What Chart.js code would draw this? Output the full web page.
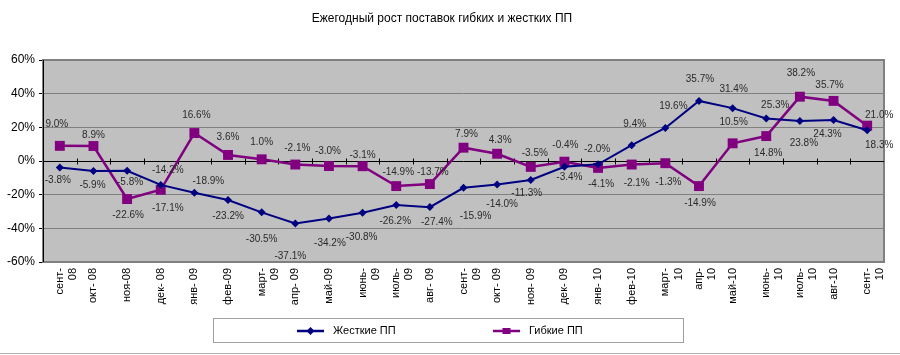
<!DOCTYPE html>
<html><head><meta charset="utf-8">
<script src="https://cdn.jsdelivr.net/npm/chart.js@4"></script>
<style>html,body{margin:0;padding:0;background:#fff}#wrap{width:900px;height:355px;position:relative}</style>
</head><body><div id="wrap"><canvas id="c" width="900" height="355"></canvas></div>
<script>
const categories = [['сент-','08'],'окт- 08','ноя-08','дек- 08','янв- 09','фев-09',['март-','09'],'апр- 09','май-09',['июнь-','09'],['июль-','09'],'авг- 09',['сент-','09'],'окт- 09','ноя- 09','дек- 09','янв- 10','фев-10',['март-','10'],['апр-','10'],'май-10',['июнь-','10'],['июль-','10'],'авг-10',['сент-','10']];
const rigidName = 'Жесткие ПП';
const flexibleName = 'Гибкие ПП';
const rigidValues = [-3.8,-5.9,-5.8,-14.2,-18.9,-23.2,-30.5,-37.1,-34.2,-30.8,-26.2,-27.4,-15.9,-14.0,-11.3,-3.4,-2.0,9.4,19.6,35.7,31.4,25.3,23.8,24.3,18.3];
const flexibleValues = [9.0,8.9,-22.6,-17.1,16.6,3.6,1.0,-2.1,-3.0,-3.1,-14.9,-13.7,7.9,4.3,-3.5,-0.4,-4.1,-2.1,-1.3,-14.9,10.5,14.8,38.2,35.7,21.0];
const yMin = -60, yMax = 60, yStep = 20;
const titleText = 'Ежегодный рост поставок гибких и жестких ПП';

// label placement offsets (dx, dy) relative to each point
const rigidLabelOffsets = [[-2,13],[-1,14],[3,11],[7,-15],[14,-12],[0,16],[0,27],[-5,33],[1,25],[-1,24],[-1,16],[7,15],[12,28],[5,20],[-4,13],[5,11],[-1,-15],[3,-21],[8,-22],[1,-22],[1,-19],[9,-13],[4,22],[-6,14],[12,15]];
const flexibleLabelOffsets = [[-3,-22],[0,-11],[1,16],[7,18],[2,-18],[0,-18],[0,-17],[2,-16],[-1,-15],[0,-11],[2,-14],[3,-12],[3,-13],[3,-14],[4,-14],[1,-16],[3,16],[5,19],[3,19],[1,17],[1,-21],[2,17],[1,-23],[-4,-16],[12,-10]];

const RIGID = '#000080', FLEX = '#800080';
const FONT = "'Liberation Sans', Arial, sans-serif";

const framePlugin = {
  id: 'frame',
  beforeDraw(chart) {
    const {ctx, chartArea: a} = chart;
    ctx.save();
    ctx.fillStyle = '#c0c0c0';
    ctx.fillRect(a.left, a.top, a.right - a.left, a.bottom - a.top);
    ctx.restore();
  },
  beforeDatasetsDraw(chart) {
    const {ctx, chartArea: a} = chart;
    const ys = chart.scales.y, xs = chart.scales.x;
    const y0 = Math.round(ys.getPixelForValue(0)) + 0.5;
    ctx.save();
    ctx.strokeStyle = '#808080';
    ctx.lineWidth = 2;
    ctx.strokeRect(a.left, a.top, a.right - a.left, a.bottom - a.top);
    ctx.strokeStyle = '#000';
    ctx.lineWidth = 1;
    ctx.beginPath();
    ctx.moveTo(a.left, y0); ctx.lineTo(a.right, y0);
    const n = categories.length;
    const step = (a.right - a.left) / n;
    for (let i = 1; i < n; i++) {
      const x = Math.round(a.left + i * step) + 0.5;
      ctx.moveTo(x, y0 - 3); ctx.lineTo(x, y0 + 3);
    }
    ctx.moveTo(a.left + 0.5, a.top); ctx.lineTo(a.left + 0.5, a.bottom);
    ctx.stroke();
    ctx.restore();
  },
  afterDatasetsDraw(chart) {
    const {ctx} = chart;
    ctx.save();
    ctx.font = '10px ' + FONT;
    ctx.fillStyle = '#2a2a2a';
    ctx.textAlign = 'center';
    ctx.textBaseline = 'middle';
    const offs = [rigidLabelOffsets, flexibleLabelOffsets];
    chart.data.datasets.forEach((ds, di) => {
      const meta = chart.getDatasetMeta(di);
      meta.data.forEach((pt, i) => {
        const o = offs[di][i];
        ctx.fillText(ds.data[i].toFixed(1) + '%', pt.x + o[0], pt.y + o[1]);
      });
    });
    ctx.restore();
  },
  afterDraw(chart) {
    const {ctx} = chart;
    ctx.save();
    // legend box
    ctx.fillStyle = '#fff';
    ctx.strokeStyle = '#a0a0a0';
    ctx.lineWidth = 1;
    ctx.fillRect(213.5, 318.5, 470, 24);
    ctx.strokeRect(213.5, 318.5, 470, 24);
    const items = [
      {x: 297, color: RIGID, label: chart.data.datasets[0].label, style: 'diamond'},
      {x: 493, color: FLEX, label: chart.data.datasets[1].label, style: 'square'}
    ];
    const ly = 331;
    items.forEach(it => {
      ctx.strokeStyle = it.color;
      ctx.lineWidth = 2.5;
      ctx.beginPath(); ctx.moveTo(it.x, ly); ctx.lineTo(it.x + 27, ly); ctx.stroke();
      ctx.fillStyle = it.color;
      const cx = it.x + 13.5;
      if (it.style === 'diamond') {
        ctx.beginPath();
        ctx.moveTo(cx - 4, ly); ctx.lineTo(cx, ly - 4); ctx.lineTo(cx + 4, ly); ctx.lineTo(cx, ly + 4);
        ctx.closePath(); ctx.fill();
      } else {
        ctx.fillRect(cx - 4, ly - 3, 8, 6);
      }
      ctx.fillStyle = '#000';
      ctx.font = '11px ' + FONT;
      ctx.textAlign = 'left';
      ctx.textBaseline = 'middle';
      ctx.fillText(it.label, it.x + 36, ly);
    });
    // outer bottom line
    ctx.strokeStyle = '#b0b0b0';
    ctx.lineWidth = 1;
    ctx.beginPath(); ctx.moveTo(0, 353.5); ctx.lineTo(900, 353.5); ctx.stroke();
    ctx.restore();
  }
};

new Chart(document.getElementById('c'), {
  type: 'line',
  data: {
    labels: categories,
    datasets: [
      {label: rigidName, data: rigidValues, borderColor: RIGID, backgroundColor: RIGID,
       borderWidth: 2, pointStyle: 'rectRot', pointRadius: 4, pointBorderWidth: 0, tension: 0},
      {label: flexibleName, data: flexibleValues, borderColor: FLEX, backgroundColor: FLEX,
       borderWidth: 2.5, pointStyle: 'rect', pointRadius: 7, pointBorderWidth: 0, tension: 0}
    ]
  },
  options: {
    responsive: false,
    animation: false,
    devicePixelRatio: 1,
    layout: {padding: {left: 0, right: 16, top: 0, bottom: 0}},
    plugins: {
      legend: {display: false},
      tooltip: {enabled: false},
      title: {
        display: true, text: titleText, color: '#000',
        font: {family: "'Liberation Sans Narrow', 'Liberation Sans', Arial, sans-serif", size: 12, weight: 'normal', lineHeight: 1.2},
        padding: {top: 11, bottom: 34.6}
      }
    },
    scales: {
      x: {
        offset: true,
        grid: {display: false, drawTicks: false},
        border: {display: false},
        ticks: {autoSkip: false, maxRotation: 90, minRotation: 90, padding: 6, color: '#000',
                font: {family: FONT, size: 11}},
        afterFit(s) { s.height = 93; }
      },
      y: {
        min: yMin, max: yMax,
        ticks: {stepSize: yStep, color: '#000', padding: 4, font: {family: FONT, size: 12},
                callback: v => v + '%'},
        grid: {color: c => (c.tick && c.tick.value === 0) ? 'rgba(0,0,0,0)' : '#808080', tickLength: 4, lineWidth: 1,
               tickColor: '#000'},
        border: {display: false},
        afterFit(s) { s.width = 43; }
      }
    }
  },
  plugins: [framePlugin]
});
</script>
</body></html>
